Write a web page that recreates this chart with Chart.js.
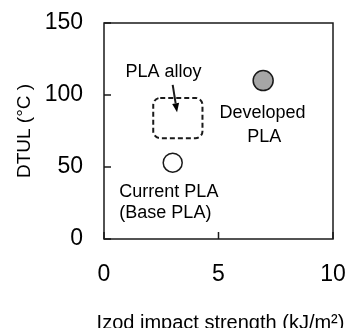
<!DOCTYPE html>
<html lang="en">
<head>
<meta charset="UTF-8">
<title>DTUL vs Izod impact strength</title>
<script src="https://cdn.jsdelivr.net/npm/chart.js"></script>
<style>
  html, body { margin: 0; padding: 0; background: #fff; }
</style>
</head>
<body>
<canvas id="myChart" width="347" height="328"></canvas>
<script>
// values
const basePLA = [{x: 3.0, y: 53}];
const developedPLA = [{x: 6.95, y: 110}];
const xTicks = [0, 5, 10];
const yTicks = [0, 50, 100, 150];
const xTitle = 'Izod impact strength (kJ/m²)';
const yTitle = 'DTUL (°C )';

// PLA alloy region (dashed box) and its arrow, in data units
const alloyX = [2.15, 4.3];
const alloyY = [70, 98];
const arrowFrom = [3.0, 107];
const arrowTo = [3.19, 88];

// text notes: text, x, y (baseline), align
const notes = [
  ['PLA alloy', 2.6, 112.5, 'center'],
  ['Developed', 6.92, 83.8, 'center'],
  ['PLA', 7.0, 67.6, 'center'],
  ['Current PLA', 0.67, 29.4, 'left'],
  ['(Base PLA)', 0.67, 14.4, 'left']
];

const FONT = '"Liberation Sans", Arial, sans-serif';
Chart.defaults.font.family = FONT;
Chart.defaults.color = '#000';

// scales should not reserve extra room for overhanging labels
const noPad = s => { s.paddingLeft = 0; s.paddingRight = 0; s.paddingTop = 0; s.paddingBottom = 0; };

// frame, inward tick marks, dashed box, arrow and labels
const decor = {
  id: 'decor',
  afterDatasetsDraw(chart) {
    const c = chart.ctx;
    const a = chart.chartArea;
    const xs = chart.scales.x, ys = chart.scales.y;
    c.save();
    c.strokeStyle = '#1a1a1a';
    c.lineWidth = 1.5;
    c.strokeRect(a.left, a.top, a.right - a.left, a.bottom - a.top);

    // ticks inside the plot
    c.beginPath();
    xTicks.forEach(v => {
      const px = xs.getPixelForValue(v);
      c.moveTo(px, a.bottom);
      c.lineTo(px, a.bottom - 7);
    });
    yTicks.forEach(v => {
      const py = ys.getPixelForValue(v);
      c.moveTo(a.left, py);
      c.lineTo(a.left + 7, py);
    });
    c.stroke();

    // dashed rounded box
    const x0 = xs.getPixelForValue(alloyX[0]), x1 = xs.getPixelForValue(alloyX[1]);
    const y0 = ys.getPixelForValue(alloyY[1]), y1 = ys.getPixelForValue(alloyY[0]);
    c.setLineDash([5, 3]);
    c.lineWidth = 2;
    c.beginPath();
    c.roundRect(x0, y0, x1 - x0, y1 - y0, 7);
    c.stroke();
    c.setLineDash([]);

    // arrow
    const ax = xs.getPixelForValue(arrowFrom[0]), ay = ys.getPixelForValue(arrowFrom[1]);
    const bx = xs.getPixelForValue(arrowTo[0]), by = ys.getPixelForValue(arrowTo[1]);
    const ang = Math.atan2(by - ay, bx - ax);
    const hl = 9, hw = 3.5;
    c.lineWidth = 2;
    c.beginPath();
    c.moveTo(ax, ay);
    c.lineTo(bx - Math.cos(ang) * hl, by - Math.sin(ang) * hl);
    c.stroke();
    c.fillStyle = '#000';
    c.beginPath();
    c.moveTo(bx, by);
    c.lineTo(bx - Math.cos(ang) * hl - Math.sin(ang) * hw, by - Math.sin(ang) * hl + Math.cos(ang) * hw);
    c.lineTo(bx - Math.cos(ang) * hl + Math.sin(ang) * hw, by - Math.sin(ang) * hl - Math.cos(ang) * hw);
    c.closePath();
    c.fill();

    // labels
    c.font = '18px ' + FONT;
    c.textBaseline = 'alphabetic';
    notes.forEach(n => {
      c.textAlign = n[3];
      c.fillText(n[0], xs.getPixelForValue(n[1]), ys.getPixelForValue(n[2]));
    });

    // x axis title (wider than the plot, so drawn here instead of by the scale)
    c.font = '20px ' + FONT;
    c.textAlign = 'center';
    c.fillText(xTitle, (a.left + a.right) / 2 + 2, 329);
    c.restore();
  }
};

new Chart(document.getElementById('myChart'), {
  type: 'scatter',
  data: {
    datasets: [
      {
        label: 'Current PLA',
        data: basePLA,
        pointRadius: 9.5,
        pointBackgroundColor: '#ffffff',
        pointBorderColor: '#1a1a1a',
        pointBorderWidth: 1.5
      },
      {
        label: 'Developed PLA',
        data: developedPLA,
        pointRadius: 10,
        pointBackgroundColor: '#a6a6a6',
        pointBorderColor: '#1a1a1a',
        pointBorderWidth: 1.5
      }
    ]
  },
  options: {
    responsive: false,
    animation: false,
    devicePixelRatio: 1,
    layout: { padding: { top: 23, right: 14, left: 0, bottom: 0 } },
    plugins: { legend: { display: false }, tooltip: { enabled: false } },
    scales: {
      x: {
        type: 'linear',
        min: 0, max: 10,
        afterFit(s) { s.height = 89; noPad(s); },
        afterBuildTicks(s) { s.ticks = xTicks.map(v => ({value: v})); },
        grid: { display: false, drawTicks: false },
        border: { display: false },
        ticks: { padding: 22, font: { size: 23 } },
        title: { display: false }
      },
      y: {
        type: 'linear',
        min: 0, max: 150,
        afterFit(s) { s.width = 104; noPad(s); },
        afterBuildTicks(s) { s.ticks = yTicks.map(v => ({value: v})); },
        grid: { display: false, drawTicks: false },
        border: { display: false },
        ticks: { padding: 21, font: { size: 23 } },
        title: {
          display: true,
          text: yTitle,
          font: { size: 19, lineHeight: 1.2 },
          padding: { top: 13, bottom: 0 }
        }
      }
    }
  },
  plugins: [decor]
});
</script>
</body>
</html>
